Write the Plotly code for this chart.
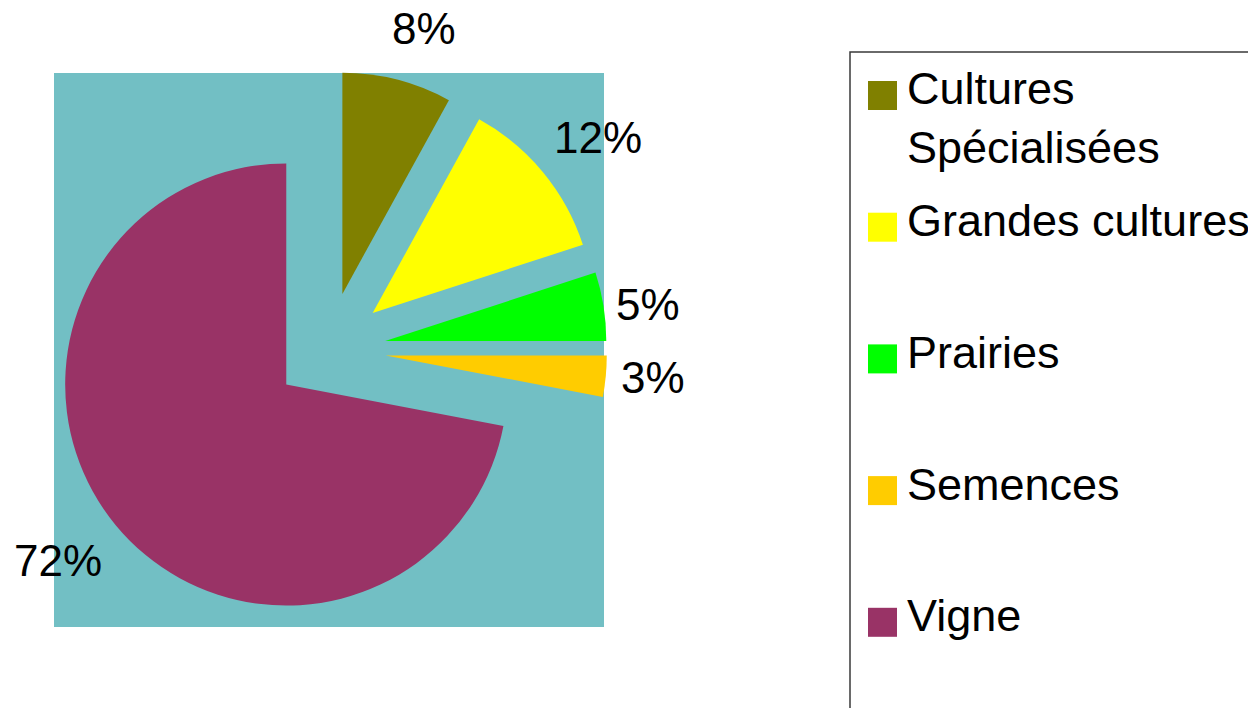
import plotly.graph_objects as go

# Data
categories = ["Cultures Spécialisées", "Grandes cultures", "Prairies", "Semences", "Vigne"]
legend_labels = ["Cultures<br>Spécialisées", "Grandes cultures", "Prairies", "Semences", "Vigne"]
values = [8, 12, 5, 3, 72]
colors = ["#808000", "#FFFF00", "#00FF00", "#FFCC00", "#993366"]
pulls = [0.262, 0.262, 0.262, 0.262, 0.245]

# label positions (screen pixels, style only)
label_pos = [(424, 28), (598, 137), (648, 304), (653, 377), (58, 560)]

OFF = 8  # page body margin
W, H = 1256 - OFF, 708 - OFF
FONT = "Liberation Sans, Arial, sans-serif"

def px(x):
    return (x - OFF) / W

def py(y):
    return 1 - (y - OFF) / H

# pie geometry (screen pixels)
cx, cy, half = 328, 350, 279

fig = go.Figure()
fig.add_trace(go.Pie(
    labels=categories,
    values=values,
    sort=False,
    direction="clockwise",
    rotation=0,
    pull=pulls,
    marker=dict(colors=colors, line=dict(width=0)),
    textinfo="none",
    showlegend=False,
    hoverinfo="label+percent",
    domain=dict(x=[px(cx - half), px(cx + half)], y=[py(cy + half), py(cy - half)]),
))

shapes = [
    dict(type="rect", xref="paper", yref="paper", layer="below",
         x0=px(54), x1=px(604), y0=py(627), y1=py(73),
         fillcolor="#72BFC4", line=dict(width=0)),
    dict(type="rect", xref="paper", yref="paper", layer="below",
         x0=px(850), x1=px(1300), y0=py(760), y1=py(52),
         fillcolor="rgba(0,0,0,0)", line=dict(color="#3a3a3a", width=1.5)),
]
annotations = []
for v, (lx, ly) in zip(values, label_pos):
    annotations.append(dict(xref="paper", yref="paper", x=px(lx), y=py(ly),
                            xanchor="center", yanchor="middle",
                            text=f"{v}%", showarrow=False,
                            font=dict(family=FONT, size=44, color="black")))

first_center = 95.5
step = 131.7
for i, (lab, col) in enumerate(zip(legend_labels, colors)):
    yc = first_center + i * step
    shapes.append(dict(type="rect", xref="paper", yref="paper",
                       x0=px(868), x1=px(897), y0=py(yc + 14.5), y1=py(yc - 14.5),
                       fillcolor=col, line=dict(width=0)))
    annotations.append(dict(xref="paper", yref="paper", x=px(905), y=py(yc - 34),
                            xanchor="left", yanchor="top", align="left",
                            text=lab, showarrow=False,
                            font=dict(family=FONT, size=45, color="black")))

fig.update_layout(
    width=W, height=H,
    margin=dict(l=0, r=0, t=0, b=0, autoexpand=False),
    paper_bgcolor="white",
    plot_bgcolor="white",
    shapes=shapes,
    annotations=annotations,
    font=dict(family=FONT),
)

fig.write_html("out.html")
